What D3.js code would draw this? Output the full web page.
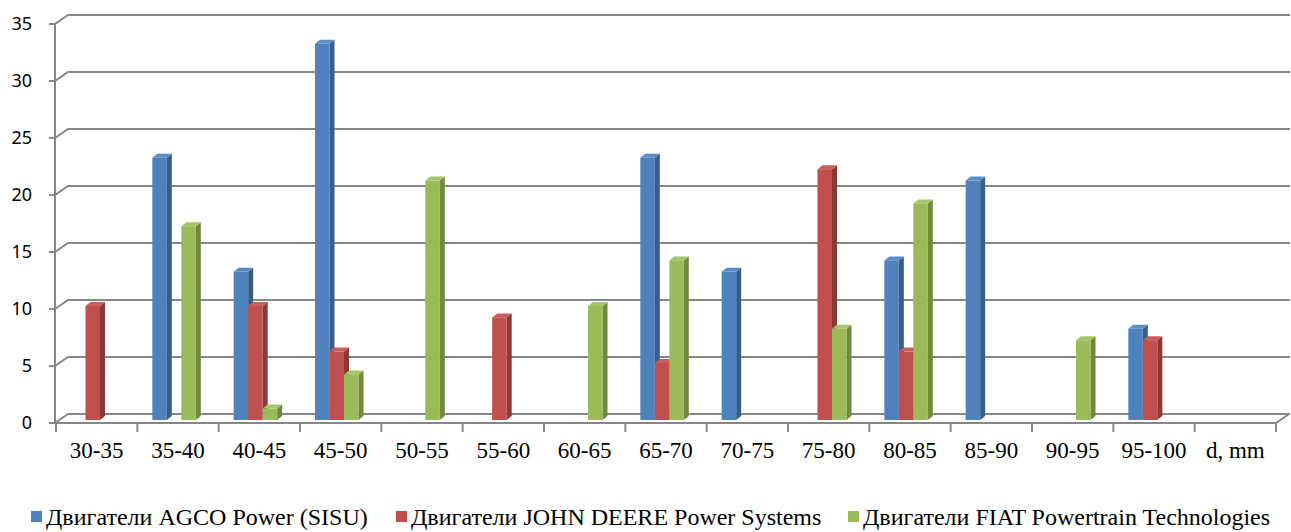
<!DOCTYPE html>
<html>
<head>
<meta charset="utf-8">
<script src="https://cdn.jsdelivr.net/npm/d3@7"></script>
</head>
<body style="margin:0">
<div id="wrapper"></div>
<script>
// data
const categories = ["30-35", "35-40", "40-45", "45-50", "50-55", "55-60", "60-65",
  "65-70", "70-75", "75-80", "80-85", "85-90", "90-95", "95-100", "d, mm"]
const seriesNames = ["Двигатели AGCO Power (SISU)",
  "Двигатели JOHN DEERE Power Systems",
  "Двигатели FIAT Powertrain Technologies"]
const agco  = [0, 23, 13, 33, 0, 0, 0, 23, 13, 0, 14, 21, 0, 8, 0]
const deere = [10, 0, 10, 6, 0, 9, 0, 5, 0, 22, 6, 0, 0, 7, 0]
const fiat  = [0, 17, 1, 4, 21, 0, 10, 14, 0, 8, 19, 0, 7, 0, 0]
const yTicks = [0, 5, 10, 15, 20, 25, 30, 35]

const seriesValues = [agco, deere, fiat]
const colors = [
  { front: "#4F81BD", side: "#385D8A", top: "#5B8CC6" },
  { front: "#C0504D", side: "#8C3836", top: "#C95F5C" },
  { front: "#9BBB59", side: "#71893F", top: "#A6C46A" },
]

// dimensions
const width = 1291, height = 532
const depth = { dx: 13, dy: -9 }     // back wall offset
const barDepth = { dx: 5, dy: -4 }   // bar side / top offset
const lineColor = "#878787"

const svg = d3.select("#wrapper").append("svg")
  .attr("width", width)
  .attr("height", height)
  .attr("font-family", "Liberation Serif")

// scales
const xScale = d3.scaleBand()
  .domain(categories)
  .range([56, 1276])

const yFront = d3.scaleLinear().domain([0, 35]).range([423, 24])
const yBar = d3.scaleLinear().domain([0, 35]).range([420, 21])

const frontLeft = 55
const backLeft = frontLeft + depth.dx
const backRight = 1290

// gridlines (back wall + left wall diagonals)
const grid = svg.append("g")
yTicks.forEach(t => {
  const yf = yFront(t), yb = yf + depth.dy
  grid.append("path")
    .attr("d", `M${frontLeft - 6},${yf} L${frontLeft},${yf} L${backLeft},${yb} L${backRight},${yb}`)
    .attr("fill", "none")
    .attr("stroke", lineColor)
    .attr("stroke-width", 2)
})

// vertical axis line
grid.append("line")
  .attr("x1", frontLeft).attr("x2", frontLeft)
  .attr("y1", yFront(35)).attr("y2", yFront(0))
  .attr("stroke", lineColor).attr("stroke-width", 2)

// floor front edge + right diagonal
const x1 = xScale.range()[1]
grid.append("path")
  .attr("d", `M${frontLeft},${yFront(0)} L${x1},${yFront(0)} L${x1 + depth.dx},${yFront(0) + depth.dy}`)
  .attr("fill", "none")
  .attr("stroke", lineColor)
  .attr("stroke-width", 2)

// x ticks
const tickPos = categories.map(c => xScale(c)).concat([x1])
grid.selectAll(".xtick")
  .data(tickPos)
  .enter().append("line")
    .attr("x1", d => d).attr("x2", d => d)
    .attr("y1", yFront(0)).attr("y2", yFront(0) + 9)
    .attr("stroke", lineColor)
    .attr("stroke-width", 2)

// bars
const bars = svg.append("g")
const barW = 14.5
categories.forEach((c, i) => {
  seriesValues.forEach((vals, s) => {
    const v = vals[i]
    if (!v) return
    const x = xScale(c) + 15 + s * barW
    const yt = yBar(v), yb = yBar(0)
    const col = colors[s]
    const g = bars.append("g")
    g.append("path")
      .attr("d", `M${x + barW},${yt} L${x + barW + barDepth.dx},${yt + barDepth.dy} L${x + barW + barDepth.dx},${yb + barDepth.dy} L${x + barW},${yb} Z`)
      .attr("fill", col.side)
    g.append("path")
      .attr("d", `M${x},${yt} L${x + barDepth.dx},${yt + barDepth.dy} L${x + barW + barDepth.dx},${yt + barDepth.dy} L${x + barW},${yt} Z`)
      .attr("fill", col.top)
    g.append("rect")
      .attr("x", x).attr("y", yt)
      .attr("width", barW).attr("height", yb - yt)
      .attr("fill", col.front)
  })
})

// y labels
svg.append("g").selectAll("text")
  .data(yTicks)
  .enter().append("text")
    .attr("x", 32)
    .attr("y", d => yFront(d))
    .attr("dy", "0.36em")
    .attr("text-anchor", "end")
    .attr("font-family", "Noto Sans")
    .attr("font-size", 18)
    .text(d => d)

// x labels
svg.append("g").selectAll("text")
  .data(categories)
  .enter().append("text")
    .attr("x", d => xScale(d) + xScale.bandwidth() / 2)
    .attr("y", 458)
    .attr("text-anchor", "middle")
    .attr("font-family", "Liberation Serif")
    .attr("font-size", 23)
    .text(d => d)

// legend
const legendX = [31, 396, 848]
const legend = svg.append("g")
seriesNames.forEach((name, s) => {
  legend.append("rect")
    .attr("x", legendX[s]).attr("y", 511)
    .attr("width", 11).attr("height", 11)
    .attr("fill", colors[s].front)
  legend.append("text")
    .attr("x", legendX[s] + 15)
    .attr("y", 525)
    .attr("font-family", "Liberation Serif")
    .attr("font-size", 24)
    .text(name)
})
</script>
</body>
</html>
